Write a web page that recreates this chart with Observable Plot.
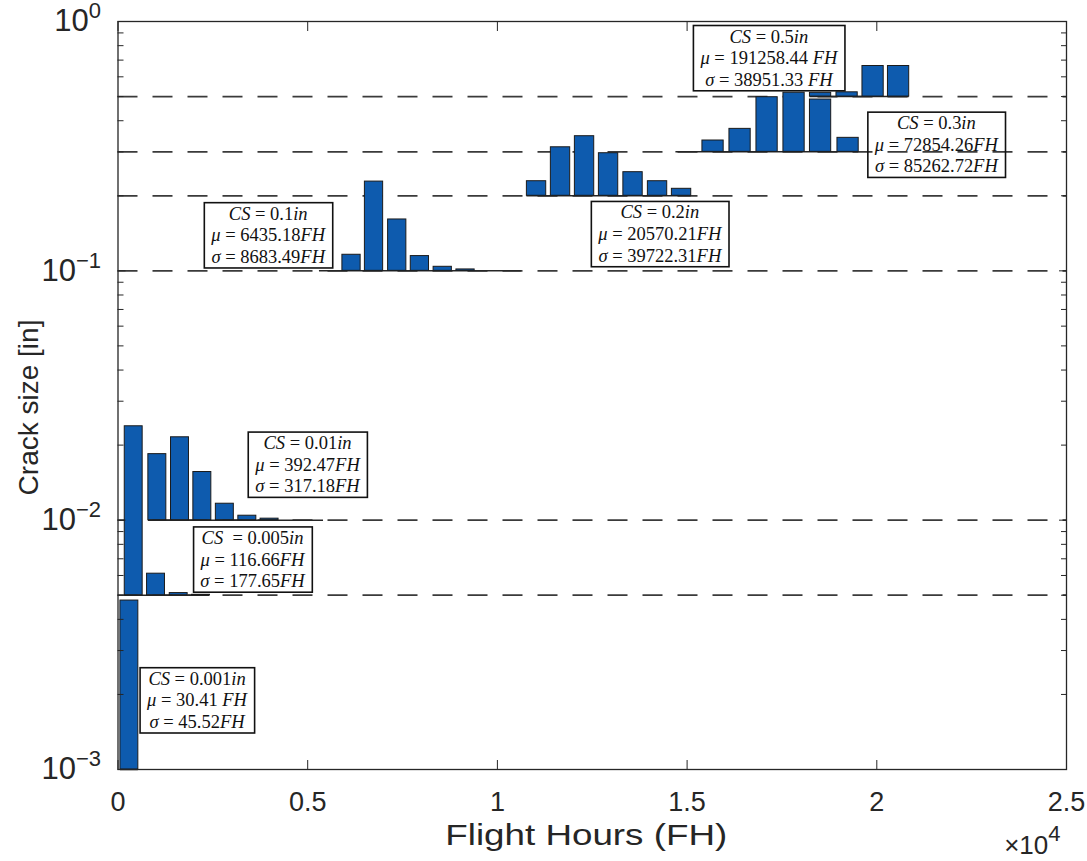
<!DOCTYPE html>
<html><head><meta charset="utf-8">
<script src="https://cdn.jsdelivr.net/npm/d3@7"></script>
<script src="https://cdn.jsdelivr.net/npm/@observablehq/plot@0.6"></script>
<style>body{margin:0;background:#fff}</style>
</head><body><div id="chart"></div>
<script>
// ---------- data ----------
const xTicks = [0, 5000, 10000, 15000, 20000, 25000];
const xTickLabels = ["0", "0.5", "1", "1.5", "2", "2.5"];
const yMajor = [0.001, 0.01, 0.1, 1];
const yTickLabels = ["10^−3", "10^−2", "10^−1", "10^0"];
const yMinor = [0.002,0.003,0.004,0.005,0.006,0.007,0.008,0.009,
                0.02,0.03,0.04,0.05,0.06,0.07,0.08,0.09,
                0.2,0.3,0.4,0.5,0.6,0.7,0.8,0.9];
const dashLevels = [0.005, 0.01, 0.1, 0.2, 0.3, 0.5];

// crack-size groups: baseline, bin spacing (FH), bin centres (FH), bar tops (in)
const baseValues = [0.001, 0.005, 0.01, 0.1, 0.2, 0.3, 0.5];
const binSteps   = [590, 590, 592, 601, 637, 700, 700];
const cs001_x = [300];
const cs001_v = [0.00476];
const cs005_x = [414, 1002, 1600, 2188];
const cs005_v = [0.0238, 0.0061, 0.0051, 0.00502];
const cs01_x  = [1037, 1634, 2223, 2816, 3409, 3995, 4590, 5180];
const cs01_v  = [0.0184, 0.0215, 0.0156, 0.01164, 0.01042, 0.01014, 0.01, 0.01];
const cs1_x   = [5550, 6155, 6748, 7360, 7957, 8559, 9160, 9785, 10390];
const cs1_v   = [0.1, 0.116, 0.228, 0.1607, 0.1146, 0.1038, 0.1013, 0.1, 0.1];
const cs2_x   = [11032, 11664, 12297, 12930, 13575, 14221, 14854];
const cs2_v   = [0.2288, 0.313, 0.3467, 0.2963, 0.2487, 0.2288, 0.2133];
const cs3_x   = [14985, 15684, 16396, 17108, 17819, 18518, 19243];
const cs3_v   = [0.3, 0.3332, 0.371, 0.497, 0.518, 0.4865, 0.3415];
const cs5_x   = [18518, 19217, 19902, 20574];
const cs5_v   = [0.5176, 0.52, 0.663, 0.663];

// annotations
const annText = [
  "CS = 0.001in\nμ = 30.41 FH\nσ = 45.52FH",
  "CS  = 0.005in\nμ = 116.66FH\nσ = 177.65FH",
  "CS = 0.01in\nμ = 392.47FH\nσ = 317.18FH",
  "CS = 0.1in\nμ = 6435.18FH\nσ = 8683.49FH",
  "CS = 0.2in\nμ = 20570.21FH\nσ = 39722.31FH",
  "CS = 0.5in\nμ = 191258.44 FH\nσ = 38951.33 FH",
  "CS = 0.3in\nμ = 72854.26FH\nσ = 85262.72FH"
];
const annX = [2083, 3545, 4995, 3959, 14282, 17155, 21570];
const annY = [0.00191, 0.00701, 0.01683, 0.140, 0.1416, 0.719, 0.323];

// ---------- build tables ----------
const groupX = [cs001_x, cs005_x, cs01_x, cs1_x, cs2_x, cs3_x, cs5_x];
const groupV = [cs001_v, cs005_v, cs01_v, cs1_v, cs2_v, cs3_v, cs5_v];
const bars = [];
const baselines = [];
groupX.forEach((xs, g) => {
  const step = binSteps[g], base = baseValues[g];
  xs.forEach((x, i) => bars.push({x1: x - 0.4 * step, x2: x + 0.4 * step, base, v: groupV[g][i]}));
  baselines.push({base, x1: xs[0] - 0.4 * step, x2: xs[xs.length - 1] + 0.4 * step});
});
const anns = annText.map((t, i) => ({t, x: annX[i], y: annY[i]}));
const xLabelOf = new Map(xTicks.map((t, i) => [t, xTickLabels[i]]));
const yLabels = yMajor.map((v, i) => ({v, t: yTickLabels[i]}));

const ink = "#262626";
const plot = Plot.plot({
  width: 1087, height: 861,
  marginLeft: 117.5, marginRight: 21, marginTop: 21, marginBottom: 92,
  x: {domain: [0, 25000]},
  y: {type: "log", domain: [0.001, 1]},
  style: {fontFamily: "'Liberation Sans', Arial, sans-serif", background: "white", color: ink, overflow: "visible"},
  marks: [
    Plot.ruleY(dashLevels, {stroke: "#3a3a3a", strokeWidth: 1.8, strokeDasharray: "20,15"}),
    Plot.ruleY(baselines, {y: "base", x1: "x1", x2: "x2", stroke: ink, strokeWidth: 1.5}),
    Plot.rect(bars, {x1: "x1", x2: "x2", y1: "base", y2: "v", fill: "#0e5bae", stroke: "#1b1b1b", strokeWidth: 1}),
    Plot.frame({stroke: ink, strokeWidth: 1.3}),
    Plot.axisX({anchor: "bottom", ticks: xTicks, tickSize: -9, tickPadding: 31, tickFormat: d => xLabelOf.get(d), fontSize: 27, label: null, stroke: ink}),
    Plot.axisX({anchor: "top", ticks: xTicks, tickSize: -9, tickFormat: () => "", label: null, stroke: ink}),
    Plot.axisY({anchor: "left", ticks: yMajor, tickSize: -8, tickFormat: () => "", label: null, stroke: ink}),
    Plot.axisY({anchor: "right", ticks: yMajor, tickSize: -8, tickFormat: () => "", label: null, stroke: ink}),
    Plot.axisY({anchor: "left", ticks: yMinor, tickSize: -6, tickFormat: () => "", label: null, stroke: ink}),
    Plot.axisY({anchor: "right", ticks: yMinor, tickSize: -6, tickFormat: () => "", label: null, stroke: ink}),
    Plot.text(yLabels, {y: "v", text: "t", frameAnchor: "left", textAnchor: "end", dx: -17, fontSize: 31, className: "sup", fill: ink}),
    Plot.text(["Crack size [in]"], {text: d => d, frameAnchor: "left", textAnchor: "middle", lineAnchor: "middle", rotate: -90, dx: -89, dy: 12, fontSize: 28, fill: ink}),
    Plot.text(["Flight Hours (FH)"], {text: d => d, frameAnchor: "bottom", textAnchor: "middle", lineAnchor: "middle", dx: -6, dy: 66, fontSize: 30, fill: ink, className: "xtitle"}),
    Plot.text(["×10^4"], {text: d => d, frameAnchor: "bottom-right", textAnchor: "end", lineAnchor: "middle", dx: -6, dy: 76, fontSize: 26, className: "sup", fill: ink}),
    Plot.text(anns, {x: "x", y: "y", text: "t", fontSize: 18.5, lineHeight: 1.17, fontFamily: "'Liberation Serif', 'Times New Roman', serif", fill: "#111", className: "ann"})
  ]
});
document.getElementById("chart").appendChild(plot);

const NS = "http://www.w3.org/2000/svg";
// superscripts
plot.querySelectorAll(".sup text").forEach(el => {
  const [base, exp] = el.textContent.split("^");
  if (exp === undefined) return;
  el.textContent = base;
  const ts = document.createElementNS(NS, "tspan");
  ts.setAttribute("dy", "-0.6em");
  ts.setAttribute("font-size", "22");
  ts.textContent = exp;
  el.appendChild(ts);
});
// wider x title, as in the reference
plot.querySelectorAll(".xtitle text").forEach(el => {
  el.setAttribute("textLength", 282);
  el.setAttribute("lengthAdjust", "spacingAndGlyphs");
});
// annotation styling: italic variables and boxes
plot.querySelectorAll(".ann text").forEach(el => {
  const lines = el.querySelectorAll("tspan");
  const targets = lines.length ? Array.from(lines) : [el];
  targets.forEach(line => {
    const parts = line.textContent.split(/([A-Za-zμσ]+)/).filter(s => s.length);
    line.textContent = "";
    parts.forEach(p => {
      const ts = document.createElementNS(NS, "tspan");
      if (/^[A-Za-zμσ]+$/.test(p)) ts.setAttribute("font-style", "italic");
      ts.textContent = p;
      line.appendChild(ts);
    });
  });
  const bb = el.getBBox();
  const r = document.createElementNS(NS, "rect");
  const padX = 6, padY = 1;
  r.setAttribute("x", bb.x - padX);
  r.setAttribute("y", bb.y - padY);
  r.setAttribute("width", bb.width + 2 * padX);
  r.setAttribute("height", bb.height + 2 * padY);
  r.setAttribute("fill", "none");
  r.setAttribute("stroke", "#111");
  r.setAttribute("stroke-width", "1.6");
  if (el.getAttribute("transform")) r.setAttribute("transform", el.getAttribute("transform"));
  el.parentNode.insertBefore(r, el);
});
</script>
</body></html>
